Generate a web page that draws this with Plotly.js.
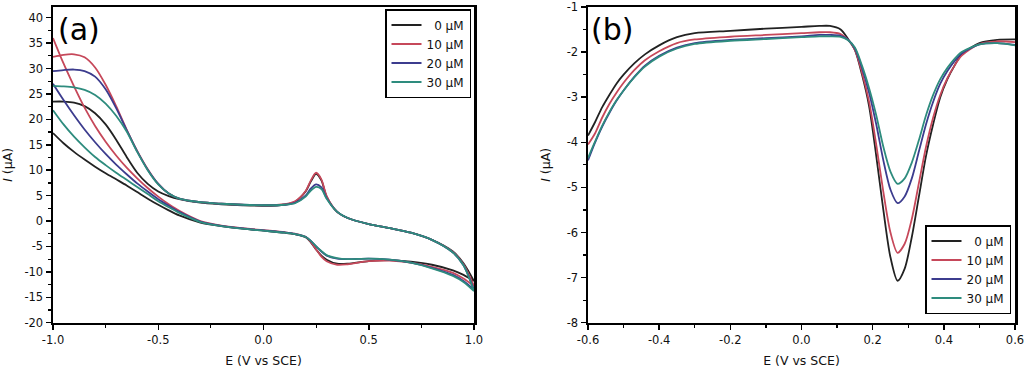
<!DOCTYPE html>
<html>
<head>
<meta charset="utf-8">
<script src="https://cdn.plot.ly/plotly-3.0.1.min.js"></script>
<style>html,body{margin:0;padding:0;background:#fff;}#chart{width:1024px;height:371px;}</style>
</head>
<body>
<div id="chart"></div>
<script>
// ---------- Data ----------
const seriesNames = ['\u20070 \u03bcM', '10 \u03bcM', '20 \u03bcM', '30 \u03bcM'];
const seriesColors = ['#222222', '#c6485a', '#3c3c8e', '#2e8c7e'];

// Panel (a): cyclic voltammograms, potential grid (V vs SCE)
const potentialA = [-1.0, -0.95, -0.9, -0.85, -0.8, -0.75, -0.7, -0.65, -0.6, -0.55, -0.5, -0.45, -0.4, -0.3, -0.2, -0.1, 0.0, 0.1, 0.15, 0.2, 0.225, 0.25, 0.275, 0.3, 0.35, 0.4, 0.5, 0.6, 0.7, 0.8, 0.9, 0.95, 1.0];
// forward (upper) branch currents, µA
const upper0  = [23.5, 23.5, 23.3, 22.6, 21.2, 19.0, 16.0, 12.6, 9.5, 7.3, 5.8, 4.9, 4.3, 3.6, 3.3, 3.1, 3.0, 3.2, 3.8, 5.8, 7.8, 9.3, 8.0, 4.8, 1.8, 0.6, -0.6, -1.4, -2.3, -3.7, -6.0, -8.3, -11.8];
const upper10 = [32.3, 32.7, 32.8, 32.2, 30.2, 26.8, 22.6, 18.0, 13.8, 10.2, 7.3, 5.4, 4.4, 3.7, 3.4, 3.2, 3.1, 3.3, 3.9, 5.9, 8.0, 9.5, 8.2, 4.9, 1.8, 0.6, -0.6, -1.4, -2.3, -3.7, -6.1, -8.5, -12.8];
const upper20 = [29.5, 29.7, 29.8, 29.5, 28.4, 25.9, 22.2, 17.9, 13.7, 10.1, 7.3, 5.4, 4.4, 3.7, 3.4, 3.2, 3.1, 3.2, 3.6, 5.0, 6.4, 7.2, 6.6, 4.5, 1.8, 0.6, -0.6, -1.4, -2.3, -3.7, -6.2, -8.7, -13.5];
const upper30 = [26.6, 26.5, 26.3, 25.8, 24.8, 23.1, 20.7, 17.6, 13.6, 10.0, 7.2, 5.4, 4.4, 3.7, 3.4, 3.2, 3.1, 3.2, 3.5, 4.8, 6.0, 6.7, 6.3, 4.4, 1.8, 0.6, -0.6, -1.4, -2.3, -3.7, -6.2, -8.7, -13.8];
// reverse (lower) branch currents, µA (listed on the same ascending grid)
const lower0  = [17.3, 15.3, 13.6, 12.1, 10.7, 9.4, 8.2, 7.0, 5.7, 4.4, 3.2, 2.1, 1.1, -0.3, -1.0, -1.5, -1.9, -2.3, -2.6, -3.2, -4.2, -5.6, -6.8, -7.6, -8.4, -8.4, -7.9, -7.7, -8.0, -8.6, -9.7, -10.6, -11.8];
const lower10 = [36.0, 31.0, 26.5, 22.3, 18.7, 15.6, 12.9, 10.5, 8.4, 6.5, 4.8, 3.3, 2.0, 0.0, -0.9, -1.4, -1.8, -2.2, -2.5, -3.1, -4.1, -5.6, -7.0, -7.9, -8.6, -8.5, -7.9, -7.8, -8.2, -9.0, -10.2, -11.3, -12.8];
const lower20 = [27.0, 23.8, 20.8, 18.0, 15.5, 13.2, 11.1, 9.2, 7.4, 5.8, 4.3, 3.0, 1.8, -0.1, -0.95, -1.45, -1.85, -2.25, -2.55, -3.1, -3.9, -5.0, -6.0, -6.8, -7.4, -7.5, -7.4, -7.6, -8.2, -9.2, -10.6, -11.8, -13.5];
const lower30 = [21.8, 19.0, 16.6, 14.5, 12.6, 11.0, 9.5, 8.1, 6.7, 5.3, 3.9, 2.7, 1.6, -0.2, -1.0, -1.5, -1.9, -2.3, -2.6, -3.15, -3.9, -5.0, -5.9, -6.7, -7.3, -7.5, -7.4, -7.6, -8.2, -9.3, -10.8, -12.0, -13.8];

// Panel (b): differential pulse voltammograms
const potentialB = [-0.6, -0.58, -0.56, -0.54, -0.52, -0.5, -0.47, -0.44, -0.4, -0.35, -0.3, -0.2, -0.1, 0.0, 0.05, 0.08, 0.11, 0.13, 0.15, 0.17, 0.19, 0.21, 0.23, 0.25, 0.27, 0.29, 0.31, 0.33, 0.35, 0.37, 0.39, 0.41, 0.43, 0.45, 0.5, 0.55, 0.6];
const dpv0  = [-3.85, -3.55, -3.22, -2.95, -2.7, -2.5, -2.25, -2.05, -1.85, -1.67, -1.58, -1.53, -1.48, -1.44, -1.42, -1.42, -1.5, -1.7, -1.95, -2.5, -3.2, -4.3, -5.5, -6.55, -7.07, -6.8, -6.1, -5.2, -4.3, -3.6, -3.0, -2.6, -2.3, -2.05, -1.8, -1.73, -1.72];
const dpv10 = [-4.05, -3.8, -3.45, -3.15, -2.9, -2.68, -2.4, -2.18, -1.98, -1.8, -1.72, -1.66, -1.62, -1.58, -1.56, -1.56, -1.6, -1.72, -1.95, -2.45, -3.1, -4.05, -5.1, -6.0, -6.45, -6.25, -5.7, -4.9, -4.1, -3.45, -2.95, -2.58, -2.3, -2.08, -1.82, -1.76, -1.78];
const dpv20 = [-4.4, -4.0, -3.65, -3.35, -3.08, -2.85, -2.55, -2.3, -2.08, -1.9, -1.8, -1.73, -1.69, -1.65, -1.62, -1.62, -1.64, -1.72, -1.92, -2.35, -2.9, -3.6, -4.4, -5.05, -5.35, -5.2, -4.8, -4.2, -3.6, -3.1, -2.7, -2.42, -2.2, -2.03, -1.83, -1.8, -1.84];
const dpv30 = [-4.35, -3.98, -3.63, -3.33, -3.07, -2.85, -2.56, -2.32, -2.1, -1.92, -1.82, -1.75, -1.71, -1.67, -1.65, -1.65, -1.66, -1.73, -1.9, -2.3, -2.8, -3.4, -4.1, -4.65, -4.92, -4.8, -4.45, -3.95, -3.4, -2.95, -2.6, -2.35, -2.15, -2.0, -1.83, -1.8, -1.85];

// Tick labels
const xTicksA = [-1.0, -0.5, 0.0, 0.5, 1.0];
const xTickTextA = ['-1.0', '-0.5', '0.0', '0.5', '1.0'];
const yTicksA = [40, 35, 30, 25, 20, 15, 10, 5, 0, -5, -10, -15, -20];
const yTickTextA = ['40', '35', '30', '25', '20', '15', '10', '5', '0', '-5', '-10', '-15', '-20'];
const xTicksB = [-0.6, -0.4, -0.2, 0.0, 0.2, 0.4, 0.6];
const xTickTextB = ['-0.6', '-0.4', '-0.2', '0.0', '0.2', '0.4', '0.6'];
const yTicksB = [-1, -2, -3, -4, -5, -6, -7, -8];
const yTickTextB = ['-1', '-2', '-3', '-4', '-5', '-6', '-7', '-8'];

// ---------- Traces ----------
const uppers = [upper0, upper10, upper20, upper30];
const lowers = [lower0, lower10, lower20, lower30];
const dpvs = [dpv0, dpv10, dpv20, dpv30];
const traces = [];
const revA = potentialA.slice().reverse();
for (let i = 0; i < 4; i++) {
  traces.push({
    type: 'scatter', mode: 'lines', xaxis: 'x', yaxis: 'y',
    x: potentialA.concat(revA),
    y: uppers[i].concat(lowers[i].slice().reverse()),
    name: seriesNames[i], legend: 'legend',
    line: {color: seriesColors[i], width: 1.8, shape: 'spline', smoothing: 0.8}
  });
}
for (let i = 0; i < 4; i++) {
  traces.push({
    type: 'scatter', mode: 'lines', xaxis: 'x2', yaxis: 'y2',
    x: potentialB, y: dpvs[i],
    name: seriesNames[i], legend: 'legend2',
    line: {color: seriesColors[i], width: 1.8, shape: 'spline', smoothing: 0.8}
  });
}

// ---------- Layout ----------
const FONT = 'DejaVu Sans, Verdana, sans-serif';
const W = 1024, H = 371;
const yDom = [1 - 322.7 / H, 1 - 7 / H];
function axisBase() {
  return {
    showgrid: false, zeroline: false, showline: true, mirror: true,
    linecolor: '#000', linewidth: 2.5,
    ticks: 'outside', ticklen: 5, tickwidth: 1.5, tickcolor: '#000',
    tickfont: {family: FONT, size: 11.5, color: '#111'},
    ticklabeloverflow: 'allow',
    tickmode: 'array', fixedrange: true
  };
}
const layout = {
  width: W, height: H,
  margin: {l: 0, r: 0, t: 0, b: 0, pad: 0},
  paper_bgcolor: '#fff', plot_bgcolor: '#fff',
  font: {family: FONT, color: '#111'},
  xaxis: Object.assign(axisBase(), {
    domain: [53 / W, 474 / W], range: [-1, 1], anchor: 'y',
    tickvals: xTicksA, ticktext: xTickTextA,
    minor: {tickmode: 'linear', tick0: -1, dtick: 0.25, ticks: 'outside', ticklen: 3, tickwidth: 1.2, tickcolor: '#000'},
    title: {text: 'E (V vs SCE)', font: {family: FONT, size: 12.5, color: '#111'}, standoff: 10}
  }),
  yaxis: Object.assign(axisBase(), {
    domain: yDom, range: [-20, 42.1], anchor: 'x',
    tickvals: yTicksA, ticktext: yTickTextA,
    minor: {tickmode: 'linear', tick0: -20, dtick: 2.5, ticks: 'outside', ticklen: 3, tickwidth: 1.2, tickcolor: '#000'},
    title: {text: '<i>I</i> (\u03bcA)', font: {family: FONT, size: 12.5, color: '#111'}, standoff: 10}
  }),
  xaxis2: Object.assign(axisBase(), {
    domain: [588 / W, 1015 / W], range: [-0.6, 0.6], anchor: 'y2',
    tickvals: xTicksB, ticktext: xTickTextB,
    minor: {tickmode: 'linear', tick0: -0.6, dtick: 0.1, ticks: 'outside', ticklen: 3, tickwidth: 1.2, tickcolor: '#000'},
    title: {text: 'E (V vs SCE)', font: {family: FONT, size: 12.5, color: '#111'}, standoff: 10}
  }),
  yaxis2: Object.assign(axisBase(), {
    domain: yDom, range: [-8, -1], anchor: 'x2',
    tickvals: yTicksB, ticktext: yTickTextB,
    minor: {tickmode: 'linear', tick0: -8, dtick: 0.5, ticks: 'outside', ticklen: 3, tickwidth: 1.2, tickcolor: '#000'},
    title: {text: '<i>I</i> (\u03bcA)', font: {family: FONT, size: 12.5, color: '#111'}, standoff: 14}
  }),
  legend: {
    x: 471 / W, xanchor: 'right', y: 1 - 9 / H, yanchor: 'top',
    bgcolor: '#fff', bordercolor: '#000', borderwidth: 1.5,
    font: {family: FONT, size: 12, color: '#111'},
    tracegroupgap: 0, itemwidth: 30
  },
  legend2: {
    x: 1011 / W, xanchor: 'right', y: 1 - 225 / H, yanchor: 'top',
    bgcolor: '#fff', bordercolor: '#000', borderwidth: 1.5,
    font: {family: FONT, size: 12, color: '#111'},
    tracegroupgap: 0, itemwidth: 30
  },
  annotations: [
    {text: '(a)', xref: 'paper', yref: 'paper', x: 56 / W, xanchor: 'left', y: 1 - 29 / H, yanchor: 'middle',
     showarrow: false, font: {family: FONT, size: 30, color: '#000'}},
    {text: '(b)', xref: 'paper', yref: 'paper', x: 589 / W, xanchor: 'left', y: 1 - 30 / H, yanchor: 'middle',
     showarrow: false, font: {family: FONT, size: 30, color: '#000'}}
  ]
};

Plotly.newPlot('chart', traces, layout, {staticPlot: true, displayModeBar: false});
</script>
</body>
</html>
